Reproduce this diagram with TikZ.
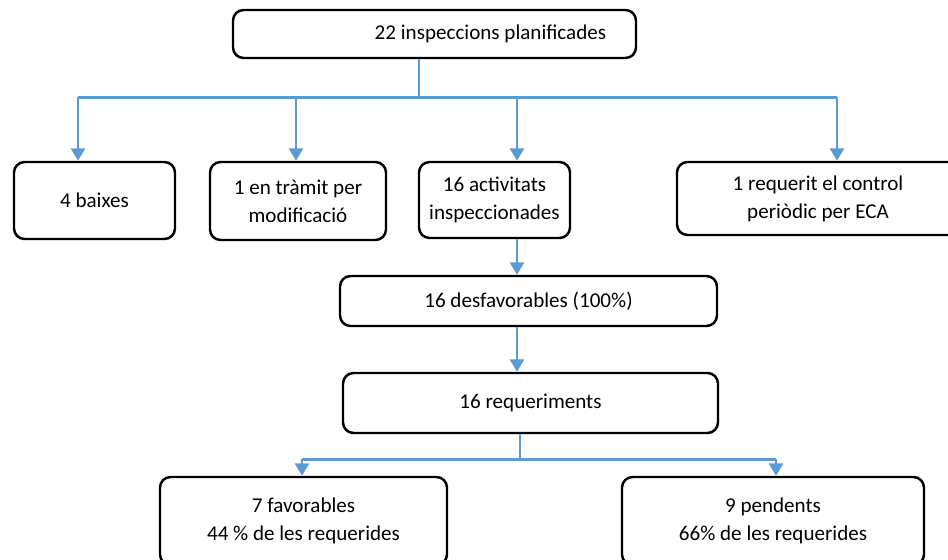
\documentclass[tikz,border=0pt]{standalone}
\usepackage{fontspec}
\setmainfont{Carlito}
\usetikzlibrary{arrows.meta}
\definecolor{linkblue}{HTML}{5B9BD5}
\begin{document}
\begin{tikzpicture}[x=0.02cm,y=-0.02cm,
  every node/.style={font=\fontsize{12}{16}\selectfont},
  box/.style={draw,line width=1.4pt,rounded corners=6pt,align=center,inner sep=0pt},
  bar/.style={linkblue,line width=1.7pt},
  arr/.style={linkblue,line width=1.7pt,-{Triangle[width=0.28cm,length=0.25cm]}}]
 \clip (0,0) rectangle (948,559);
 % boxes
 \node[box,minimum width=403*0.02cm,minimum height=48*0.02cm] (top) at (434.5,34) {\hspace*{2.24cm}22 inspeccions planificades};
 \node[box,minimum width=161*0.02cm,minimum height=77*0.02cm] (baixes) at (94.5,200.5) {4 baixes};
 \node[box,minimum width=176*0.02cm,minimum height=78*0.02cm] (tramit) at (298,201) {1 en tràmit per\\modificació};
 \node[box,minimum width=151*0.02cm,minimum height=76*0.02cm] (insp) at (494.5,200) {16 activitats\\inspeccionades};
 \node[box,minimum width=282*0.02cm,minimum height=73*0.02cm] (eca) at (818,198.5) {1 requerit el control\\periòdic per ECA};
 \node[box,minimum width=377*0.02cm,minimum height=50*0.02cm] (desf) at (528.5,301) {16 desfavorables (100\%)};
 \node[box,minimum width=375*0.02cm,minimum height=60*0.02cm] (req) at (530.5,403) {16 requeriments};
 \node[box,minimum width=287*0.02cm,minimum height=88*0.02cm] (fav) at (303.5,521) {7 favorables\\44 \% de les requerides};
 \node[box,minimum width=302*0.02cm,minimum height=88*0.02cm] (pend) at (773,521) {9 pendents\\66\% de les requerides};
 % junctions
 \coordinate (hub) at (419,97);
 \coordinate (k1) at (78,97);
 \coordinate (k2) at (296,97);
 \coordinate (k3) at (517,97);
 \coordinate (k4) at (837,97);
 \coordinate (hub2) at (520,459);
 \coordinate (m1) at (302,459);
 \coordinate (m2) at (776,459);
 % connectors
 \draw[linkblue,line width=0.85pt] (top.south -| hub) -- (hub);
 \draw[bar] (k1) -- (k4);
 \draw[arr] (k1) -- (k1 |- baixes.north);
 \draw[arr] (k2) -- (k2 |- tramit.north);
 \draw[arr] (k3) -- (k3 |- insp.north);
 \draw[arr] (k4) -- (k4 |- eca.north);
 \draw[arr] (insp.south -| k3) -- (desf.north -| k3);
 \draw[arr] (desf.south -| k3) -- (req.north -| k3);
 \draw[bar] (req.south -| hub2) -- (hub2);
 \draw[bar] (m1) -- (m2);
 \draw[arr] (m1) -- (m1 |- fav.north);
 \draw[arr] (m2) -- (m2 |- pend.north);
\end{tikzpicture}
\end{document}
